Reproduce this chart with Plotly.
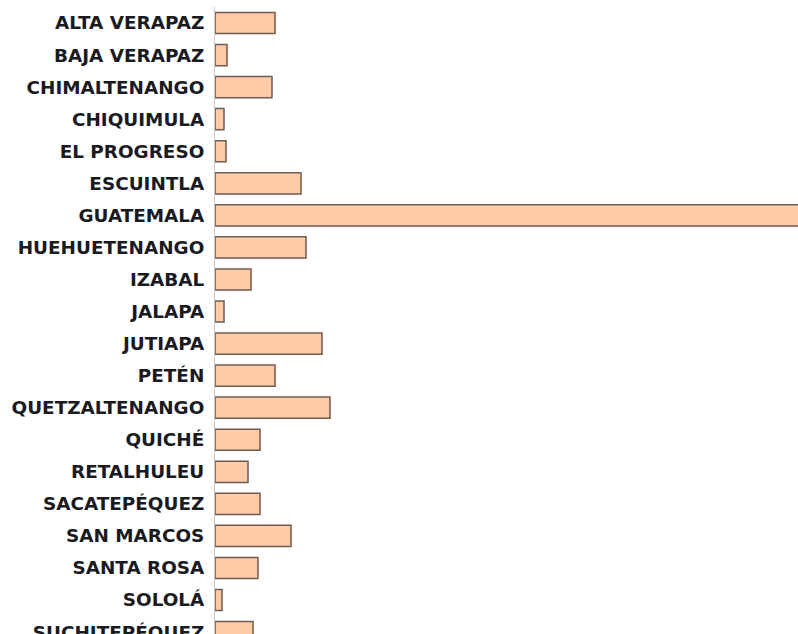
import plotly.graph_objects as go

departamentos = [
    "ALTA VERAPAZ", "BAJA VERAPAZ", "CHIMALTENANGO", "CHIQUIMULA", "EL PROGRESO",
    "ESCUINTLA", "GUATEMALA", "HUEHUETENANGO", "IZABAL", "JALAPA", "JUTIAPA",
    "PETÉN", "QUETZALTENANGO", "QUICHÉ", "RETALHULEU", "SACATEPÉQUEZ",
    "SAN MARCOS", "SANTA ROSA", "SOLOLÁ", "SUCHITEPÉQUEZ",
]
valores = [60, 12, 57, 9, 11, 86, 700, 91, 36, 9, 107, 60, 115, 45, 33, 45, 76, 43, 7, 38]

x_max = 583

fig = go.Figure(
    go.Bar(
        x=valores,
        y=departamentos,
        orientation="h",
        marker=dict(color="#FFCBA4", line=dict(color="#6E5B52", width=1.5)),
        width=0.66,
    )
)

fig.update_layout(
    width=798,
    height=634,
    margin=dict(l=215, r=0, t=7, b=0, autoexpand=False),
    paper_bgcolor="white",
    plot_bgcolor="white",
    showlegend=False,
    font=dict(family="DejaVu Sans", size=18, color="#1a1a22"),
)
fig.update_xaxes(range=[0, x_max], visible=False, showgrid=False, zeroline=False)
fig.update_yaxes(
    type="category",
    categoryorder="array",
    categoryarray=departamentos,
    range=[19.06, -0.5],
    showline=True,
    linecolor="#C9C9C9",
    linewidth=1,
    ticks="",
    ticklabelstandoff=6,
    tickfont=dict(family="DejaVu Sans", size=18.4, weight="bold", color="#1a1a22"),
    showgrid=False,
    zeroline=False,
)

fig.write_html(
    "out.html",
    config={"displayModeBar": False},
    post_script="document.body.style.margin='0';"
                "document.documentElement.style.overflow='hidden';"
                "document.body.style.overflow='hidden';",
)
